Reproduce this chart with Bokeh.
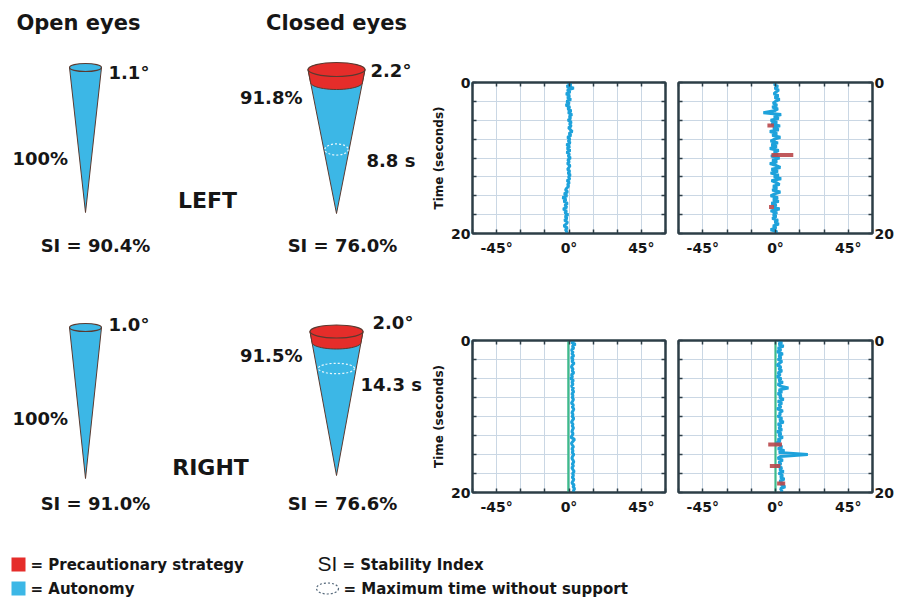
import numpy as np
from bokeh.plotting import figure
from bokeh.layouts import row, column
from bokeh.models import Range1d, FixedTicker, LinearAxis, PrintfTickFormatter
from bokeh.core.properties import value
from bokeh.embed import file_html
from bokeh.resources import INLINE

# ---------------- data ----------------
conditions = ["Open eyes", "Closed eyes"]
sides = ["LEFT", "RIGHT"]
cone_angle_labels = ["1.1°", "2.2°", "1.0°", "2.0°"]
autonomy_labels = ["100%", "91.8%", "100%", "91.5%"]
si_labels = ["SI = 90.4%", "SI = 76.0%", "SI = 91.0%", "SI = 76.6%"]
max_time_labels = ["8.8 s", "14.3 s"]
legend_labels = ["= Precautionary strategy", "= Autonomy", "= Stability Index",
                 "= Maximum time without support"]
x_tick_labels = [-45, 0, 45]
y_tick_labels = [0, 20]

time_s = [0, 0.25, 0.5, 0.75, 1, 1.25, 1.5, 1.75,
          2, 2.25, 2.5, 2.75, 3, 3.25, 3.5, 3.75,
          4, 4.25, 4.5, 4.75, 5, 5.25, 5.5, 5.75,
          6, 6.25, 6.5, 6.75, 7, 7.25, 7.5, 7.75,
          8, 8.25, 8.5, 8.75, 9, 9.25, 9.5, 9.75,
          10, 10.25, 10.5, 10.75, 11, 11.25, 11.5, 11.75,
          12, 12.25, 12.5, 12.75, 13, 13.25, 13.5, 13.75,
          14, 14.25, 14.5, 14.75, 15, 15.25, 15.5, 15.75,
          16, 16.25, 16.5, 16.75, 17, 17.25, 17.5, 17.75,
          18, 18.25, 18.5, 18.75, 19, 19.25, 19.5, 19.75,
          20]

angle_open_left = [-1.0, 1.5, -1.5, 3.0, -1.2, 0.8, -1.8, 0.5,
                   -1.0, 1.2, -1.5, 0.3, -2.0, 0.6, -0.8, 1.4,
                   -0.5, 1.8, 0.2, 1.0, -0.6, 1.5, 0.3, 1.4,
                   -0.3, 0.9, 2.0, 0.0, 1.2, -0.9, 0.6, -0.5,
                   0.8, -1.5, 0.5, -1.2, 0.8, -1.4, 0.3, -0.5,
                   0.9, -0.8, 0.2, -1.0, 0.6, 0.0, -0.9, 0.5,
                   -0.6, 0.8, -0.3, 0.5, -1.2, 0.2, -0.8, -0.3,
                   -1.4, -2.2, -0.8, -3.0, -1.2, -4.0, -1.8, -3.2,
                   -0.9, -2.6, -1.3, -3.6, -1.5, -2.6, -0.6, -2.4,
                   -1.2, -2.8, -0.9, -1.8, -3.2, -1.0, -2.2, -1.4,
                   -1.5]

angle_closed_left = [0.5, -0.8, 1.5, -0.5, 2.0, 0.3, -1.0, 1.8,
                     -0.5, 2.5, 0.0, -1.5, 1.0, -2.0, 1.5, -0.8,
                     -7.5, 3.5, -1.0, 2.0, -3.0, 1.0, -2.5, 2.8,
                     -1.5, 2.0, -3.5, 1.0, -2.0, 3.0, -0.5, -3.0,
                     1.5, -2.5, 0.8, -3.5, 2.0, -1.0, 1.5, -2.8,
                     2.5, -2.0, 1.0, -3.5, 0.5, 3.0, -2.5, 1.5,
                     -3.0, 2.0, -1.0, 3.5, -2.5, 0.5, 2.5, -1.5,
                     1.0, -2.0, 3.0, -0.5, -3.0, 1.5, -1.5, 2.0,
                     -2.5, 0.5, -1.0, 2.5, -3.0, 1.0, -1.5, 0.5,
                     -2.0, 1.5, -0.5, 2.0, -1.5, 0.5, -3.0, 1.0,
                     -0.5]

angle_open_right = [3.5, 1.5, 4.0, 2.0, 3.0, 1.5, 2.5, 1.8,
                    3.0, 1.5, 2.5, 1.8, 3.2, 2.0, 1.5, 2.5,
                    2.0, 3.0, 1.5, 2.2, 1.0, 2.8, 1.8, 2.5,
                    1.5, 2.8, 2.0, 3.0, 1.8, 2.5, 2.0, 2.8,
                    2.2, 1.5, 2.8, 2.0, 3.0, 2.5, 1.8, 2.5,
                    2.0, 3.0, 2.2, 1.5, 2.5, 2.0, 2.8, 2.2,
                    1.8, 2.5, 2.0, 1.2, 3.5, 2.5, 1.5, 2.0,
                    2.8, 1.8, 2.5, 2.0, 3.0, 2.2, 1.8, 2.5,
                    3.0, 2.0, 2.8, 1.8, 2.5, 3.2, 2.2, 2.8,
                    2.0, 3.0, 2.5, 1.8, 3.2, 2.5, 3.5, 2.8,
                    3.0]

angle_closed_right = [1.5, 4.0, 2.0, 5.0, 1.5, 3.5, 1.0, 4.5,
                      2.0, 3.5, 1.5, 4.0, 2.5, 1.0, 3.5, 2.0,
                      4.0, 1.5, 3.0, 1.0, 3.5, 2.0, 4.5, 1.5,
                      3.0, 8.0, 2.0, 4.0, 1.5, 3.5, 2.5, 5.0,
                      1.5, 4.0, 2.0, 3.5, 1.0, 4.5, 2.5, 3.0,
                      1.5, 4.0, 2.5, 5.0, 1.5, 3.5, 2.0, 4.0,
                      1.0, 3.5, 2.0, 4.5, 1.5, 3.0, 0.5, 2.5,
                      4.0, 1.5, 5.5, 2.0, 20.0, 3.0, 1.5, 4.5,
                      2.0, 3.5, 1.0, 4.0, 2.5, 5.0, 2.0, 4.5,
                      3.0, 5.5, 2.5, 4.5, 3.5, 6.0, 3.0, 4.0,
                      3.5]

# vertical reference (green) lines in the right-side recordings
green_open_right = [-0.4, -0.4]
green_closed_right = [0.0, 0.0]
green_time = [0, 20]

# precautionary strategy events (red): time, start angle, end angle
red_left_time = [5.7, 9.6, 16.5]
red_left_a0 = [-5.0, -2.5, -4.0]
red_left_a1 = [-1.0, 11.0, -1.0]
red_right_time = [13.7, 16.5, 18.8]
red_right_a0 = [-4.5, -3.5, 1.0]
red_right_a1 = [4.0, 3.0, 6.0]

# ---------------- styles ----------------
FONT_NAME = "DejaVu Sans"
FONT = value(FONT_NAME)
INK = "#161616"
BLUE = "#3cb7e6"
RED = "#e52d2a"
EDGE = "#5a3a30"
TRACE = "#1ea2db"
RED_TR = "#b9474a"
GREEN = "#3dba8c"
GRID = "#cad7e4"
FRAME = "#2d3e47"


def blank(width, height, x0=0, y0=0):
    p = figure(width=width, height=height, x_range=Range1d(x0, x0 + width),
               y_range=Range1d(y0, y0 + height), output_backend="svg",
               toolbar_location=None, min_border=0)
    p.axis.visible = False
    p.grid.visible = False
    p.outline_line_color = None
    p.background_fill_color = "white"
    p.border_fill_color = "white"
    return p


# ---------------- left diagram ----------------
LW, LH = 428, 548
left = blank(LW, LH, x0=-8, y0=0)


def fy(v):
    return 540 - v


def txt(p, x, y, s, size, align="left", flip=fy, style="bold", font=FONT):
    p.text(x=[x], y=[flip(y)], text=[s], text_font=font, text_font_style=style,
           text_font_size=size, text_align=align, text_baseline="middle",
           text_color=INK)


def open_cone(cx, ytop, hw, apex, eh):
    left.patch([cx - hw, cx + hw, cx], [fy(ytop), fy(ytop), fy(apex)],
               fill_color=BLUE, line_color=EDGE, line_width=1)
    left.ellipse(x=[cx], y=[fy(ytop)], width=2 * hw, height=eh,
                 fill_color=BLUE, line_color=EDGE, line_width=1.2)


def closed_cone(cx, ytop, hw, ysplit, apex, eh, dash_y):
    left.patch([cx - hw, cx + hw, cx], [fy(ytop), fy(ytop), fy(apex)],
               fill_color=BLUE, line_color=EDGE, line_width=1)
    hs = hw * (apex - ysplit) / (apex - ytop)
    th = np.linspace(0, np.pi, 25)
    ax = list(cx + hs * np.cos(th))
    ay = list(ysplit + (eh / 2) * np.sin(th))
    xs = [cx - hw, cx + hw] + ax
    ys = [ytop, ytop] + ay
    left.patch(xs, [fy(v) for v in ys], fill_color=RED, line_color=EDGE,
               line_width=1)
    left.ellipse(x=[cx], y=[fy(ytop)], width=2 * hw, height=eh,
                 fill_color=RED, line_color=EDGE, line_width=1.2)
    hd = hw * (apex - dash_y) / (apex - ytop)
    left.ellipse(x=[cx], y=[fy(dash_y)], width=2 * hd * 0.92, height=eh * 0.8,
                 fill_color=None, line_color="#e9f6fc", line_width=1.2,
                 line_dash="2 2")


open_cone(77, 59, 16, 204, 8)
open_cone(77, 319, 16, 470, 8)
closed_cone(328, 61, 28.5, 74, 205, 14, 141)
closed_cone(328, 323, 26.5, 334, 467, 13, 360)

txt(left, 70, 14, conditions[0], "21px", "center")
txt(left, 328, 14, conditions[1], "21px", "center")

txt(left, 100, 64, cone_angle_labels[0], "18px")
txt(left, 4, 150, autonomy_labels[0], "18px")
txt(left, 87, 237, si_labels[0], "18px", "center")
txt(left, 199, 192, sides[0], "22px", "center")
txt(left, 294, 89, autonomy_labels[1], "18px", "right")
txt(left, 362, 62, cone_angle_labels[1], "18px")
txt(left, 358, 152, max_time_labels[0], "18px")
txt(left, 334, 237, si_labels[1], "18px", "center")

txt(left, 100, 316, cone_angle_labels[2], "18px")
txt(left, 4, 410, autonomy_labels[2], "18px")
txt(left, 87, 495, si_labels[2], "18px", "center")
txt(left, 202, 459, sides[1], "22px", "center")
txt(left, 294, 347, autonomy_labels[3], "18px", "right")
txt(left, 364, 314, cone_angle_labels[3], "18px")
txt(left, 352, 376, max_time_labels[1], "18px")
txt(left, 334, 495, si_labels[3], "18px", "center")


# ---------------- recordings ----------------
GRID_X = [-60, -45, -30, -15, 0, 15, 30, 45, 60]
GRID_Y = [0, 2.5, 5, 7.5, 10, 12.5, 15, 17.5, 20]


def tick_axis(p, where, dim):
    ticks = GRID_X if dim == "x" else GRID_Y
    ax = LinearAxis(ticker=FixedTicker(ticks=[], minor_ticks=ticks),
                    major_label_standoff=0, major_tick_in=0, major_tick_out=0,
                    minor_tick_in=4, minor_tick_out=0,
                    axis_line_color=FRAME, axis_line_width=2,
                    minor_tick_line_color=FRAME, minor_tick_line_width=1.5)
    p.add_layout(ax, where)


def recording(angles, reds, green, yside, fw, fh, bl, br, bt, bb):
    p = figure(frame_width=fw, frame_height=fh, x_range=Range1d(-60, 60),
               y_range=Range1d(20, 0), output_backend="svg",
               toolbar_location=None, y_axis_location=yside,
               min_border_left=bl, min_border_right=br,
               min_border_top=bt, min_border_bottom=bb)
    p.background_fill_color = "white"
    p.border_fill_color = "white"
    p.outline_line_color = FRAME
    p.outline_line_width = 2
    p.xgrid.ticker = FixedTicker(ticks=GRID_X)
    p.ygrid.ticker = FixedTicker(ticks=GRID_Y)
    p.grid.grid_line_color = GRID
    p.grid.grid_line_width = 1

    p.xaxis.ticker = FixedTicker(ticks=x_tick_labels,
                                 minor_ticks=[-60, -30, -15, 15, 30, 60])
    p.xaxis.formatter = PrintfTickFormatter(format="%d°")
    p.yaxis.ticker = FixedTicker(ticks=y_tick_labels,
                                 minor_ticks=[2.5, 5, 7.5, 10, 12.5, 15, 17.5])
    for ax in (p.xaxis + p.yaxis):
        ax.major_label_text_font = FONT_NAME
        ax.major_label_text_font_style = "bold"
        ax.major_label_text_font_size = "14px"
        ax.major_label_text_color = INK
        ax.axis_line_color = FRAME
        ax.axis_line_width = 2
        ax.major_tick_in = 4
        ax.major_tick_out = 0
        ax.minor_tick_in = 4
        ax.minor_tick_out = 0
        ax.major_tick_line_color = FRAME
        ax.minor_tick_line_color = FRAME
        ax.major_tick_line_width = 1.5
        ax.minor_tick_line_width = 1.5
    p.xaxis.major_label_standoff = 6
    p.yaxis.major_label_standoff = 2
    if yside == "left":
        p.yaxis.axis_label = "Time (seconds)"
        p.yaxis.axis_label_text_font = FONT_NAME
        p.yaxis.axis_label_text_font_style = "bold"
        p.yaxis.axis_label_text_font_size = "12px"
        p.yaxis.axis_label_text_color = INK
        p.yaxis.axis_label_standoff = 2
        tick_axis(p, "right", "y")
    else:
        tick_axis(p, "left", "y")
    tick_axis(p, "above", "x")

    if green is not None:
        p.line(green, green_time, line_color=GREEN, line_width=2.2)
    p.line(angles, time_s, line_color=TRACE, line_width=3)
    if reds is not None:
        t, a0, a1 = reds
        p.segment(x0=a0, y0=t, x1=a1, y1=t, line_color=RED_TR, line_width=4,
                  line_alpha=0.9)
    return p


p1 = recording(angle_open_left, None, None, "left", 193, 151, 44, 7, 82, 57)
p2 = recording(angle_closed_left, (red_left_time, red_left_a0, red_left_a1), None,
               "right", 194, 151, 6, 22, 82, 57)
p3 = recording(angle_open_right, None, green_open_right, "left", 193, 152, 44, 7, 50, 56)
p4 = recording(angle_closed_right, (red_right_time, red_right_a0, red_right_a1),
               green_closed_right, "right", 194, 152, 6, 22, 50, 56)

# ---------------- legend ----------------
GW, GH = 890, 50
leg = blank(GW, GH)


def gy(v):
    return GH - v


leg.rect(x=[18, 18], y=[gy(16), gy(40)], width=14, height=14,
         fill_color=[RED, BLUE], line_color=None)
txt(leg, 30, 16, legend_labels[0], "15px", flip=gy)
txt(leg, 30, 40, legend_labels[1], "15px", flip=gy)
txt(leg, 317, 15, "SI", "21px", flip=gy, style="normal", font=value("Liberation Sans"))
txt(leg, 342, 16, legend_labels[2], "15px", flip=gy)
leg.ellipse(x=[327], y=[gy(40)], width=22, height=11, fill_color=None,
            line_color="#55687a", line_width=1.2, line_dash="2 2")
txt(leg, 343, 40, legend_labels[3], "15px", flip=gy)

layout = column(row(left, column(row(p1, p2), row(p3, p4))), leg)
open("out.html", "w").write(file_html(layout, INLINE))
